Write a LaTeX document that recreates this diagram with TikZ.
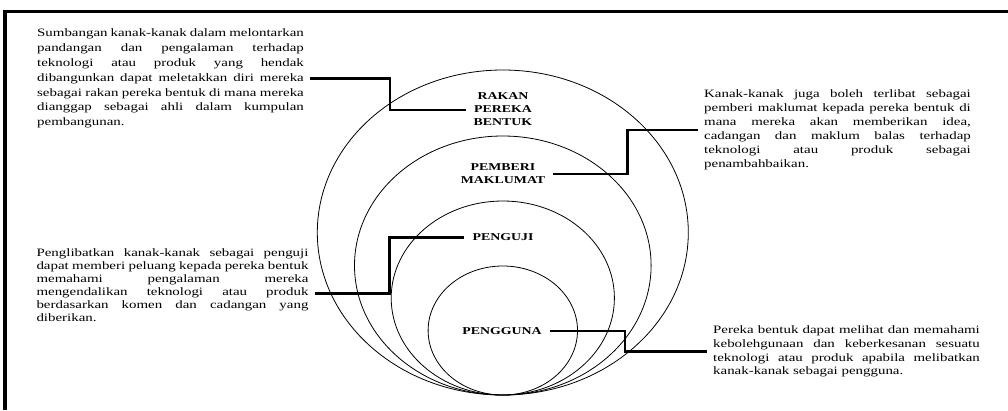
\documentclass[tikz,border=0pt]{standalone}
\usepackage{fontspec}
\setmainfont{Liberation Serif}
\usepackage{graphicx}
\usetikzlibrary{positioning}

\newcommand{\stretchx}[1]{\scalebox{1.32}[1]{#1}}
\newcommand{\notebody}[2][202pt]{\stretchx{\parbox{#1}{\tolerance=10000\hbadness=10000\hyphenpenalty=10000 #2}}}

\tikzset{
    note/.style={
           font=\fontsize{11.3}{#1}\selectfont,
           inner xsep=6pt, inner ysep=0pt,
           },
    note/.default=14,
    role/.style={
           font=\fontsize{10.5}{13}\selectfont\bfseries,
           inner xsep=8pt, inner ysep=1pt,
           },
    ring/.style={line width=0.8pt},
    link/.style={line width=2.4pt},
    frame/.style={line width=3.3pt},
}

\begin{document}
\begin{tikzpicture}[x=1pt, y=-1pt]
  \useasboundingbox (0,0) rectangle (1008,410);
  \draw[frame] (1008,11.7) -- (5,11.7) -- (5,410);

  % nested circles, all touching at the bottom
  \foreach \rx/\ry in {185.5/162.5, 148.3/129.5, 111.6/97, 74.7/64.5}
    \draw[ring] (502.8,395-\ry) ellipse [x radius=\rx pt, y radius=\ry pt];

  \node[role]   (lblRakan)    at (503,110)   {\stretchx{\begin{tabular}{@{}c@{}}RAKAN\\PEREKA\\BENTUK\end{tabular}}};
  \node[role]   (lblPemberi)  at (503,174)   {\stretchx{\begin{tabular}{@{}c@{}}PEMBERI\\MAKLUMAT\end{tabular}}};
  \node[role]   (lblPenguji)  at (503,237.5) {\stretchx{PENGUJI}};
  \node[role]   (lblPengguna) at (502,331)   {\stretchx{PENGGUNA}};

  \node[note=14.8] (txtRakan) at (170.5,78.5) {\notebody{Sumbangan kanak-kanak dalam melontarkan\linebreak
    pandangan dan pengalaman terhadap\linebreak
    teknologi atau produk yang hendak\linebreak
    dibangunkan dapat meletakkan diri mereka\linebreak
    sebagai rakan pereka bentuk di mana mereka\linebreak
    dianggap sebagai ahli dalam kumpulan\linebreak
    pembangunan.}};
  \node[note=14] (txtPemberi) at (837.5,130) {\notebody{Kanak-kanak juga boleh terlibat sebagai\linebreak
    pemberi maklumat kepada pereka bentuk di\linebreak
    mana mereka akan memberikan idea,\linebreak
    cadangan dan maklum balas terhadap\linebreak
    teknologi atau produk sebagai\linebreak
    penambahbaikan.}};
  \node[note=13] (txtPenguji) at (172.5,285.5) {\notebody[206pt]{Penglibatkan kanak-kanak sebagai penguji\linebreak
    dapat memberi peluang kepada pereka bentuk\linebreak
    memahami pengalaman mereka\linebreak
    mengendalikan teknologi atau produk\linebreak
    berdasarkan komen dan cadangan yang\linebreak
    diberikan.}};
  \node[note=13.7] (txtPengguna) at (846.5,351.5) {\notebody{Pereka bentuk dapat melihat dan memahami\linebreak
    kebolehgunaan dan keberkesanan sesuatu\linebreak
    teknologi atau produk apabila melibatkan\linebreak
    kanak-kanak sebagai pengguna.}};

  \draw[link] (txtRakan.east) -- ++(80,0) |- (lblRakan.west);
  \draw[link] (lblPemberi.east) -- ++(74,0) |- (txtPemberi.west);
  \draw[link] ([yshift=-8pt]txtPenguji.east) -- ++(75,0) |- (lblPenguji.west);
  \draw[link] (lblPengguna.east) -- ++(75,0) |- (txtPengguna.west);

\end{tikzpicture}
\end{document}
